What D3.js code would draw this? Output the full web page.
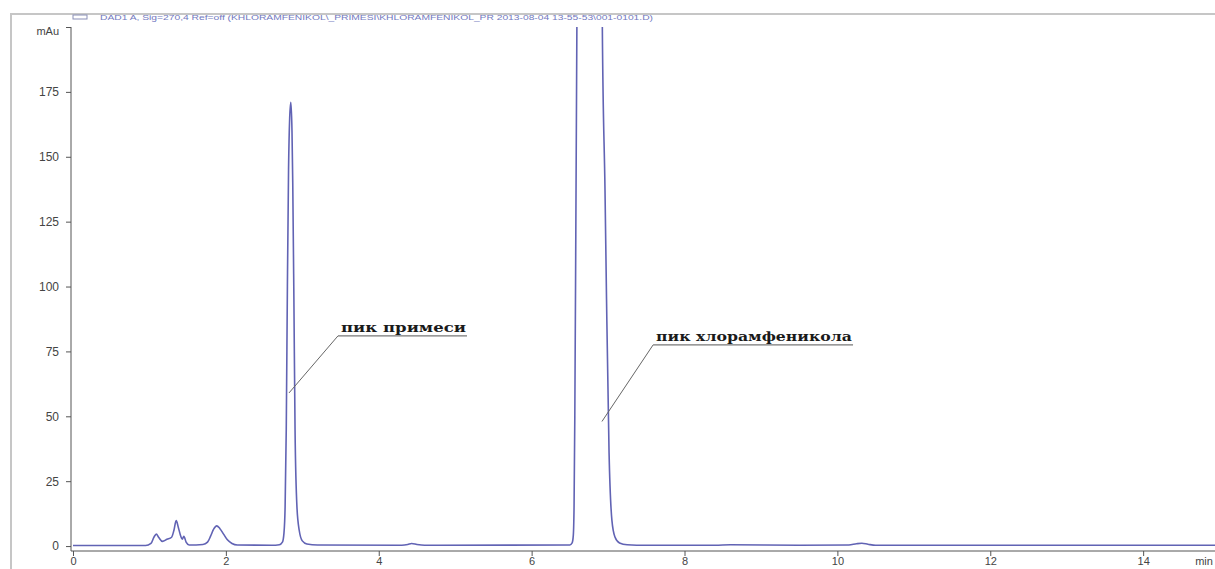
<!DOCTYPE html>
<html>
<head>
<meta charset="utf-8">
<script src="https://cdn.jsdelivr.net/npm/d3@7"></script>
<style>
  body { margin: 0; background: #fff; }
  svg { display: block; }
</style>
</head>
<body>
<svg id="chart" width="1215" height="569"></svg>
<script>
// chromatogram: retention time (min) and signal (mAu)
const times = [0, 0.95, 1.02, 1.06, 1.09, 1.12, 1.17, 1.23, 1.29, 1.32, 1.35, 1.38, 1.41, 1.43, 1.45, 1.48, 1.52,
  1.70, 1.76, 1.80, 1.84, 1.88, 1.92, 1.97, 2.02, 2.08, 2.15,
  2.60, 2.70, 2.74, 2.76, 2.775, 2.79, 2.805, 2.82, 2.835, 2.85, 2.865, 2.875, 2.89, 2.905, 2.93, 2.96, 3.00, 3.06, 3.20,
  4.30, 4.38, 4.43, 4.50, 4.60,
  6.50, 6.53, 6.545, 6.555, 6.565, 6.578, 6.592, 6.64, 6.76, 6.86, 6.925, 6.96, 6.98, 7.013, 7.05, 7.09, 7.15, 7.25, 7.50,
  8.40, 8.60, 9.50, 10.15, 10.25, 10.32, 10.40, 10.50, 12.0, 13.5, 14.95];
const mau = [0.2, 0.2, 1.0, 3.5, 4.6, 3.4, 1.8, 2.6, 3.4, 6.0, 9.8, 7.0, 3.8, 2.6, 3.8, 1.5, 0.4,
  0.6, 1.5, 3.8, 6.5, 7.8, 6.8, 4.6, 2.4, 1.0, 0.4,
  0.3, 0.5, 1.5, 5, 15, 45, 100, 145, 165, 171, 160, 140, 95, 45, 15, 6, 2, 0.8, 0.4,
  0.3, 0.6, 1.0, 0.6, 0.3,
  0.4, 1.2, 4, 15, 50, 120, 200, 500, 1300, 700, 200, 137, 95, 36, 10, 3.5, 1.2, 0.5, 0.3,
  0.3, 0.5, 0.3, 0.4, 0.9, 1.1, 0.7, 0.3, 0.3, 0.3, 0.3];

const xTicks = [0, 2, 4, 6, 8, 10, 12, 14];
const yTicks = [0, 25, 50, 75, 100, 125, 150, 175];
const xUnit = "min";
const yUnit = "mAu";
const header = "DAD1 A, Sig=270,4 Ref=off (KHLORAMFENIKOL\\_PRIMESI\\KHLORAMFENIKOL_PR 2013-08-04 13-55-53\\001-0101.D)";

// peak labels: text start / end (min), underline level (mAu), leader target (min, mAu)
const noteText = ["пик примеси", "пик хлорамфеникола"];
const noteX0 = [3.467, 7.589];
const noteX1 = [5.155, 10.205];
const noteY = [81, 77.5];
const noteTx = [2.826, 6.92];
const noteTy = [59, 48];

const svg = d3.select("#chart");

const x = d3.scaleLinear().domain([-0.026, 14.94]).range([71, 1215]);
const y = d3.scaleLinear().domain([-1.9, 200]).range([551, 27]);

// outer frame
svg.append("line").attr("x1", 10).attr("x2", 1215).attr("y1", 14).attr("y2", 14)
  .attr("stroke", "#c6c6c6").attr("stroke-width", 2);
svg.append("line").attr("x1", 11).attr("x2", 11).attr("y1", 14).attr("y2", 569)
  .attr("stroke", "#c6c6c6").attr("stroke-width", 2);

// header line
svg.append("rect").attr("x", 73).attr("y", 15).attr("width", 14).attr("height", 4)
  .attr("fill", "none").attr("stroke", "#8a8fb8").attr("stroke-width", 1);
svg.append("text").attr("x", 100).attr("y", 20)
  .attr("font-family", "Liberation Sans, Arial, sans-serif").attr("font-size", 7)
  .attr("fill", "#7178c0").attr("textLength", 553).attr("lengthAdjust", "spacingAndGlyphs")
  .text(header);

// trace
svg.append("clipPath").attr("id", "clip").append("rect")
  .attr("x", 71).attr("y", 27).attr("width", 1144).attr("height", 530);

const line = d3.line()
  .x((d, i) => x(times[i]))
  .y(d => y(d))
  .curve(d3.curveMonotoneX);

svg.append("path").datum(mau)
  .attr("clip-path", "url(#clip)")
  .attr("fill", "none")
  .attr("stroke", "#6163b4")
  .attr("stroke-width", 1.6)
  .attr("d", line);

// axes
const gx = svg.append("g").attr("transform", `translate(0,${y.range()[0]})`);
gx.call(d3.axisBottom(x).tickValues(d3.range(0, 15, 0.5)).tickSize(3).tickFormat(""));
gx.call(d3.axisBottom(x).tickValues(xTicks).tickSize(5).tickPadding(1));
gx.selectAll(".domain").remove();
gx.append("line").attr("x1", 71).attr("x2", 1215).attr("stroke", "#555");
gx.selectAll(".tick line").attr("stroke", "#555");
gx.selectAll("text").attr("font-family", "Liberation Sans, Arial, sans-serif")
  .attr("font-size", 11).attr("fill", "#444");
gx.append("text").attr("x", x(14.68)).attr("y", 6).attr("dy", "0.71em")
  .attr("font-family", "Liberation Sans, Arial, sans-serif").attr("font-size", 11)
  .attr("fill", "#444").attr("text-anchor", "start").text(xUnit);

const gy = svg.append("g").attr("transform", `translate(${x.range()[0]},0)`);
gy.call(d3.axisLeft(y).tickValues(d3.range(0, 201, 5)).tickSize(3).tickFormat(""));
gy.call(d3.axisLeft(y).tickValues(yTicks.concat([200])).tickSize(5).tickPadding(7)
  .tickFormat(d => d === 200 ? yUnit : d));
gy.selectAll(".domain").remove();
gy.append("line").attr("y1", y(200)).attr("y2", y.range()[0]).attr("stroke", "#555");
gy.selectAll(".tick line").attr("stroke", "#555");
gy.selectAll("text").attr("font-family", "Liberation Sans, Arial, sans-serif")
  .attr("font-size", 12).attr("fill", "#444");
gy.selectAll(".tick").filter(d => d === 200).select("text").attr("dy", "0.7em").attr("font-size", 11);

// peak labels
noteText.forEach((t, i) => {
  const g = svg.append("g");
  g.append("line")
    .attr("x1", x(noteTx[i])).attr("y1", y(noteTy[i]))
    .attr("x2", x(noteX0[i])).attr("y2", y(noteY[i]))
    .attr("stroke", "#666").attr("stroke-width", 1);
  g.append("line")
    .attr("x1", x(noteX0[i])).attr("y1", y(noteY[i]))
    .attr("x2", x(noteX1[i])).attr("y2", y(noteY[i]))
    .attr("stroke", "#777").attr("stroke-width", 1.2);
  g.append("text")
    .attr("x", x(noteX0[i]) + 3).attr("y", y(noteY[i]) - 4)
    .attr("font-family", "DejaVu Serif, Liberation Serif, serif")
    .attr("font-weight", "bold").attr("font-size", 13).attr("fill", "#1a1a1a")
    .attr("textLength", x(noteX1[i]) - x(noteX0[i]) - 4).attr("lengthAdjust", "spacingAndGlyphs")
    .text(t);
});
</script>
</body>
</html>
